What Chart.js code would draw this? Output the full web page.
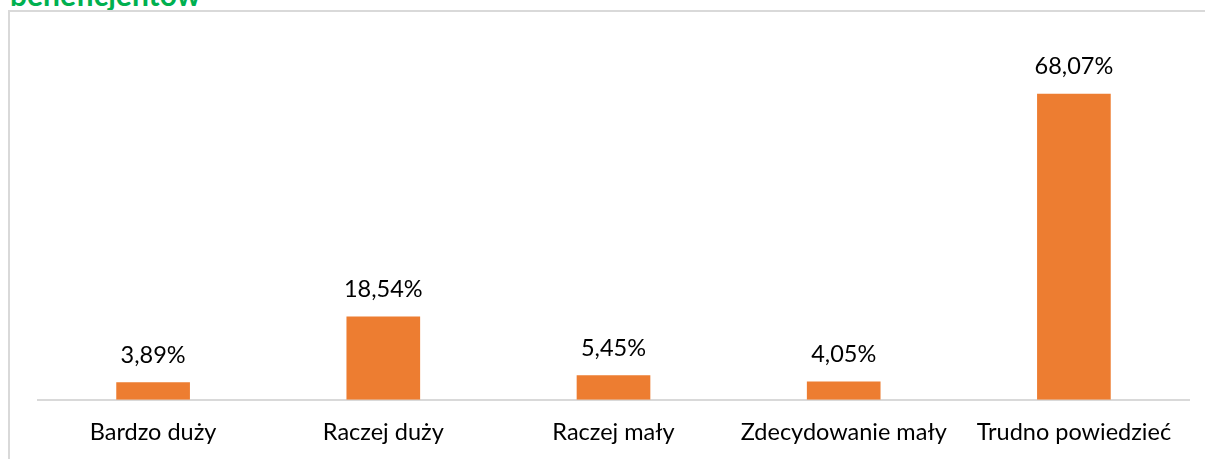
<!DOCTYPE html>
<html lang="pl">
<head>
<meta charset="utf-8">
<script src="https://cdn.jsdelivr.net/npm/chart.js@4/dist/chart.umd.min.js"></script>
<style>
  html, body { margin: 0; padding: 0; background: #fff; overflow: hidden; }
  #wrap { position: relative; width: 1205px; height: 459px; overflow: hidden; }
  #heading {
    position: absolute; left: 10px; top: -24px;
    font: bold 30px Lato, sans-serif; color: #00b050; white-space: nowrap;
  }
  #frame {
    position: absolute; left: 8px; top: 10px; width: 1205px; height: 480px;
    border: 2px solid #d9d9d9; box-sizing: border-box;
  }
  #chart { position: absolute; left: 0; top: 0; }
</style>
</head>
<body>
<div id="wrap">
  <div id="heading">beneficjentów</div>
  <div id="frame"></div>
  <canvas id="chart" width="1205" height="480"></canvas>
</div>
<script>
const categories = ['Bardzo duży', 'Raczej duży', 'Raczej mały', 'Zdecydowanie mały', 'Trudno powiedzieć'];
const shares = [3.89, 18.54, 5.45, 4.05, 68.07];

const fmtPct = v => v.toFixed(2).replace('.', ',') + '%';

// value labels above each bar
const barLabels = {
    id: 'barLabels',
    afterDatasetsDraw(chart) {
        const ctx = chart.ctx;
        const meta = chart.getDatasetMeta(0);
        ctx.save();
        ctx.font = '23.5px Lato, sans-serif';
        ctx.fillStyle = '#000';
        ctx.textAlign = 'center';
        ctx.textBaseline = 'middle';
        meta.data.forEach((bar, i) => {
            ctx.fillText(fmtPct(shares[i]), bar.x, bar.y - 27);
        });
        ctx.restore();
    }
};

new Chart(document.getElementById('chart'), {
    type: 'bar',
    data: {
        labels: categories,
        datasets: [{
            data: shares,
            backgroundColor: '#ed7d31',
            categoryPercentage: 1,
            barPercentage: 0.32
        }]
    },
    options: {
        responsive: false,
        animation: false,
        layout: { padding: { left: 38, right: 16, top: 40, bottom: 14 } },
        plugins: { legend: { display: false }, tooltip: { enabled: false } },
        scales: {
            x: {
                grid: { display: false, drawTicks: false },
                border: { color: '#d9d9d9', width: 2 },
                ticks: { color: '#000', padding: 19, font: { family: 'Lato', size: 23.5 } }
            },
            y: {
                display: false,
                min: 0,
                max: 80
            }
        }
    },
    plugins: [barLabels]
});
</script>
</body>
</html>
